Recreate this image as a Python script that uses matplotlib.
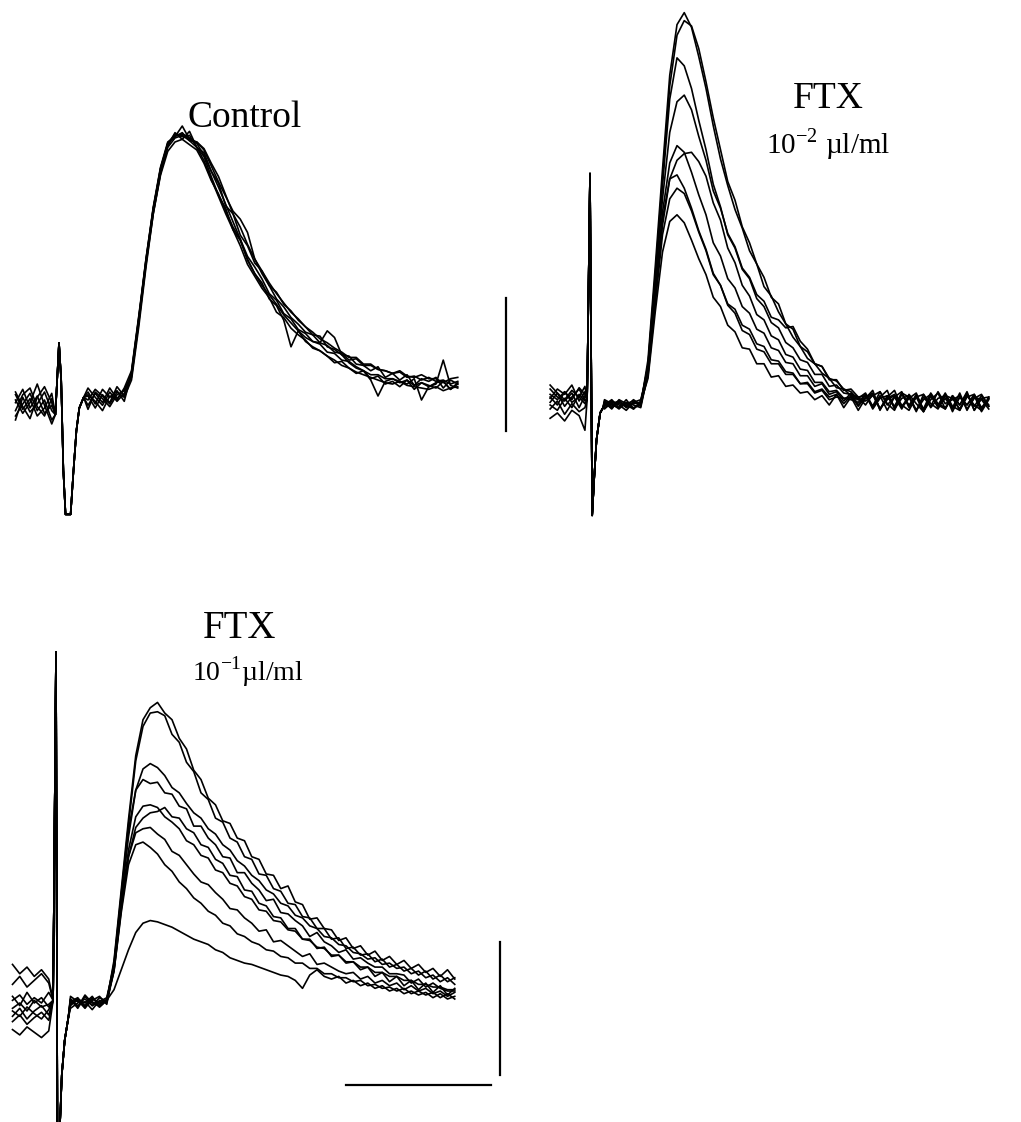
import numpy as np
import matplotlib.pyplot as plt

plt.rcParams['font.family'] = ['Liberation Serif', 'DejaVu Serif']
plt.rcParams['mathtext.fontset'] = 'custom'
plt.rcParams['mathtext.rm'] = 'Liberation Serif'

W, H = 1021, 1122
PX_MS = 14.5      # horizontal: 10 ms bar
PX_MV = 133.0     # vertical: 1 mV bar

# field potentials, amplitudes in units of 10 uV, time in ms from stimulus

# --- Control ---
ctrl_pre_t = [-3.0, -2.5, -2.0, -1.5, -1.0, -0.5]
ctrl_art_t = [-0.25, 0.0, 0.15, 0.3, 0.45, 0.8, 1.0, 1.2, 1.4, 1.7]
ctrl_art_v = [-11, 43, 15, -53, -86, -86, -53, -23, -6, 2]
ctrl_post_t = np.arange(2.0, 27.6, 0.5)

ctrl_pre = [
    [-2, 8, -6, 3, -10, -4],
    [-12, -3, 5, -8, 0, -15],
    [6, -5, -14, 2, 10, -2],
    [-8, 4, 9, -5, -12, 1],
    [0, -10, -2, 12, -4, -18],
    [-15, 2, -9, -3, 6, -8],
    [4, -7, 1, -12, -6, 5],
]
ctrl_post = [
    [6, -3, 8, 2, 7, -1, 20, 62, 104, 141, 170, 191,
     201, 196, 202, 190, 186, 172, 163, 146, 140, 124, 116, 103, 97, 86, 81, 72, 67, 60,
     55, 49, 48, 40, 38, 34, 33, 27, 26, 22, 25, 17, 20, 15, 19, 11, 16, 14, 17, 9, 15, 12],
    [-4, 5, -2, 9, 1, 8, 18, 58, 102, 140, 169, 187,
     194, 196, 192, 188, 178, 165, 155, 142, 130, 121, 105, 95, 88, 76, 71, 60, 40, 52,
     44, 40, 37, 33, 28, 29, 24, 20, 22, 16, 18, 12, 14, 10, 15, 8, 13, 11, 9, 14, 8, 12],
    [3, -6, 4, -2, 10, 3, 21, 61, 106, 145, 175, 194,
     198, 206, 196, 194, 188, 176, 164, 153, 142, 136, 126, 106, 95, 86, 76, 70, 62, 57,
     51, 49, 43, 41, 36, 35, 30, 31, 26, 26, 23, 22, 20, 21, 17, 18, 15, 17, 14, 15, 12, 14],
    [-7, 6, 1, -5, 4, 7, 17, 59, 103, 144, 172, 193,
     200, 198, 199, 190, 183, 168, 154, 144, 128, 120, 106, 95, 86, 79, 72, 64, 58, 52,
     47, 44, 43, 52, 47, 34, 28, 24, 22, 19, 19, 16, 16, 13, 15, 11, 13, 10, 12, 30, 11, 9],
    [9, 2, -4, 6, -1, 5, 19, 60, 105, 143, 174, 192,
     199, 200, 197, 193, 184, 172, 160, 147, 134, 121, 108, 100, 91, 80, 75, 65, 61, 53,
     50, 44, 42, 36, 35, 30, 29, 25, 22, 15, 3, 14, 16, 14, 12, 16, 0, 10, 13, 14, 8, 13],
    [0, 8, 3, -3, 6, 2, 15, 55, 100, 140, 171, 190,
     197, 199, 195, 194, 189, 178, 168, 154, 140, 130, 117, 106, 97, 88, 80, 73, 66, 61,
     55, 51, 46, 43, 39, 36, 32, 32, 27, 27, 23, 22, 20, 22, 18, 17, 19, 16, 16, 13, 16, 17],
    [4, -1, -8, 3, 0, 9, 22, 63, 106, 144, 174, 193,
     198, 201, 195, 190, 180, 166, 153, 140, 128, 116, 102, 93, 84, 77, 66, 62, 54, 49,
     45, 39, 37, 33, 30, 26, 24, 21, 19, 17, 15, 13, 12, 14, 11, 10, 9, 8, 10, 7, 9, 10],
]

# --- FTX 10^-2 ul/ml ---
ftx2_pre_t = [-2.75, -2.25, -1.75, -1.25, -0.75, -0.35]
ftx2_art_t = [-0.2, 0.0, 0.15, 0.3, 0.45, 0.7, 0.9]
ftx2_art_v = [4, 174, -83, -53, -26, -6, -2]
ftx2_post_t = np.arange(1.0, 27.6, 0.5)

ftx2_pre = [
    [8, 4, 10, 2, 6, 1],
    [2, 9, -1, 6, 12, 4],
    [12, 6, 3, 9, -2, 7],
    [-10, -6, -12, -4, -8, -19],
    [5, 12, 8, 15, 3, 10],
    [0, -4, 5, -2, 8, 3],
    [15, 9, 4, 11, 6, 14],
    [-3, 3, -7, 1, -5, -2],
    [6, 0, 10, 4, 13, 8],
]
ftx2_post = [
    [2, -3, 4, 1, -2, 0, 34, 104, 177, 248, 286, 295, 284, 262, 238, 210, 185, 165,
     147, 133, 116, 106, 89, 82, 70, 61, 51, 44, 35, 31, 24, 20, 13, 12, 7, 5,
     9, -1, 7, -4, 6, 10, -2, 8, -5, 4, 9, -3, 7, 0, 10, -4, 5, -1],
    [-1, 3, 0, -4, 2, 1, 30, 98, 170, 240, 278, 289, 285, 268, 243, 216, 192, 168,
     154, 134, 122, 106, 96, 81, 76, 61, 57, 44, 40, 31, 29, 20, 18, 12, 10, 4,
     5, 11, -4, 7, -1, 9, 6, -5, 8, 1, -3, 7, -2, 9, -4, 6, 4, -3],
    [3, 0, -2, 4, -3, 2, 30, 96, 165, 230, 261, 255, 238, 214, 192, 166, 149, 128,
     118, 102, 95, 80, 74, 62, 58, 47, 43, 34, 32, 23, 23, 14, 15, 9, 8, 6,
     0, 8, -3, 6, 11, -2, 5, 9, -4, 7, -1, 8, -5, 6, 0, 8, -3, 5],
    [0, 4, -2, 1, 3, -1, 28, 92, 155, 205, 228, 233, 222, 202, 184, 161, 148, 129,
     119, 103, 96, 83, 78, 66, 64, 58, 59, 48, 42, 31, 29, 19, 19, 11, 12, 6,
     7, -1, 10, 1, -4, 8, 0, 7, -3, 9, 1, -2, 6, -4, 8, -1, 7, 0],
    [-2, 1, 3, -1, 2, 4, 26, 85, 145, 182, 195, 190, 175, 158, 143, 122, 112, 95,
     88, 74, 69, 57, 54, 43, 41, 32, 31, 22, 22, 14, 16, 8, 10, 3, 9, 0,
     8, -2, 6, 11, -3, 5, 7, -4, 6, -1, 10, 1, 4, 7, -3, 5, 8, -1],
    [1, -2, 2, 0, -3, 3, 24, 80, 135, 170, 184, 189, 190, 183, 172, 152, 139, 118,
     107, 90, 82, 68, 64, 52, 49, 38, 36, 27, 26, 17, 17, 10, 11, 5, 6, 4,
     3, 7, 10, 0, 6, -3, 8, 1, -5, 7, 0, 9, -1, -4, 6, 8, -2, 5],
    [4, 1, -3, 2, 0, -2, 24, 82, 140, 170, 173, 163, 148, 131, 117, 99, 90, 75,
     69, 56, 53, 42, 40, 31, 31, 23, 23, 16, 17, 10, 12, 6, 8, 1, 7, -1,
     6, 9, -3, 5, 8, 0, -4, 6, 8, -2, 5, 7, 5, -3, 7, 0, -4, 6],
    [-3, 2, 1, -1, 4, 0, 22, 76, 128, 155, 163, 159, 146, 130, 116, 98, 90, 76,
     72, 60, 57, 46, 44, 34, 33, 25, 24, 16, 16, 9, 11, 4, 6, 5, 4, 2,
     8, -3, 5, 7, -2, 9, -1, 6, -5, 8, 0, -3, 7, 0, 9, -4, 5, 6],
    [2, -1, 3, -2, 1, 2, 20, 70, 115, 138, 143, 137, 124, 110, 98, 81, 74, 60,
     55, 43, 42, 31, 31, 21, 22, 14, 15, 9, 10, 4, 7, 0, 8, -2, 6, -4,
     5, 8, -3, 4, 7, -1, 6, -4, 4, 8, -2, 5, -3, 6, 0, 7, -5, 4],
]

# --- FTX 10^-1 ul/ml ---
ftx1_pre_t = [-3.0, -2.5, -2.0, -1.5, -1.0, -0.5]
ftx1_art_t = [-0.2, 0.0, 0.1, 0.25, 0.4, 0.6, 0.85]
ftx1_art_v = [2, 264, -110, -99, -54, -28, -11]
ftx1_post_t = np.arange(1.0, 27.6, 0.5)

ftx1_pre = [
    [29, 22, 27, 20, 25, 18],
    [14, 20, 12, 17, 22, 15],
    [2, 6, -1, 4, 0, 8],
    [-4, 0, -6, 2, -3, -1],
    [-6, -10, -3, -8, -12, -5],
    [-14, -9, -16, -11, -7, -13],
    [-20, -24, -18, -22, -26, -21],
    [5, -2, 8, 0, 4, -3],
    [-10, -4, -12, -6, -2, -9],
]
ftx1_post = [
    [3, -4, 5, -2, 4, 1, 32, 85, 138, 186, 213, 222,
     226, 218, 213, 199, 191, 175, 168, 154, 149, 137, 135, 124, 122, 110, 108, 97, 96, 86,
     88, 76, 74, 63, 64, 56, 55, 47, 49, 41, 43, 36, 39, 32, 35, 29, 32, 26, 29, 23, 26, 20, 25, 18],
    [-2, 3, 0, 5, -3, 2, 30, 82, 134, 182, 208, 218,
     219, 216, 202, 196, 181, 174, 158, 153, 139, 136, 124, 121, 110, 108, 97, 96, 86, 84,
     75, 74, 65, 64, 56, 56, 48, 49, 41, 42, 36, 37, 31, 33, 27, 29, 24, 26, 21, 24, 18, 21, 16, 19],
    [1, 4, -3, 2, 5, -1, 28, 78, 125, 160, 176, 180,
     177, 171, 162, 158, 150, 143, 139, 131, 127, 119, 115, 107, 103, 96, 92, 85, 82, 75,
     73, 66, 64, 58, 56, 50, 49, 44, 43, 38, 37, 33, 34, 29, 30, 26, 27, 22, 24, 19, 21, 16, 19, 14],
    [-4, 0, 3, -2, 1, 4, 28, 80, 130, 160, 168, 165,
     166, 158, 157, 148, 146, 133, 133, 124, 119, 110, 109, 98, 98, 90, 85, 77, 78, 68,
     67, 62, 58, 50, 53, 46, 43, 38, 40, 33, 34, 30, 27, 27, 22, 22, 21, 15, 18, 12, 15, 11, 9, 9],
    [2, -3, 6, 0, -2, 3, 26, 74, 115, 140, 148, 149,
     147, 140, 136, 131, 122, 119, 111, 109, 100, 98, 90, 88, 80, 78, 70, 69, 62, 61,
     55, 54, 48, 47, 42, 41, 36, 36, 31, 31, 27, 27, 23, 23, 20, 20, 17, 17, 14, 14, 12, 12, 10, 10],
    [5, 1, -2, 4, -1, 2, 24, 70, 110, 132, 139, 143,
     144, 147, 140, 139, 131, 128, 119, 117, 108, 105, 96, 95, 85, 84, 75, 73, 65, 64,
     56, 56, 48, 48, 41, 42, 35, 36, 30, 31, 25, 27, 20, 23, 16, 20, 13, 17, 10, 15, 8, 13, 6, 11],
    [-1, 2, -4, 3, 0, 1, 25, 72, 110, 128, 131, 132,
     127, 123, 114, 111, 104, 97, 91, 89, 83, 78, 71, 70, 64, 60, 54, 55, 46, 47,
     43, 39, 35, 37, 29, 30, 27, 24, 22, 23, 18, 20, 15, 17, 13, 15, 10, 13, 9, 11, 7, 9, 5, 8],
    [3, -2, 1, -5, 2, 0, 24, 68, 104, 119, 121, 117,
     112, 104, 99, 91, 86, 79, 75, 69, 66, 60, 58, 52, 50, 46, 44, 40, 39, 35,
     34, 30, 30, 26, 26, 22, 22, 19, 19, 16, 17, 13, 14, 11, 12, 9, 11, 7, 9, 6, 8, 4, 7, 3],
    [0, 3, -2, 1, -3, 2, 10, 25, 40, 53, 60, 62,
     61, 59, 57, 54, 51, 48, 46, 44, 40, 38, 34, 32, 30, 29, 27, 25, 23, 21,
     20, 17, 11, 21, 25, 20, 18, 20, 15, 17, 13, 15, 11, 13, 9, 11, 7, 9, 6, 8, 4, 7, 3, 5],
]

fig = plt.figure(figsize=(W / 100, H / 100), dpi=100)


def panel_axes(left, top, width, height, x0, y0):
    # axes placed in pixels; (x0, y0) is where stimulus / baseline sit
    ax = fig.add_axes([left / W, 1 - (top + height) / H, width / W, height / H])
    ax.set_xlim((left - x0) / PX_MS, (left + width - x0) / PX_MS)
    ax.set_ylim((y0 - top - height) / PX_MV, (y0 - top) / PX_MV)
    ax.axis('off')
    return ax


def draw_traces(ax, pre_t, pre, art_t, art_v, post_t, post):
    t = np.concatenate([pre_t, art_t, post_t])
    for p, q in zip(pre, post):
        v = np.concatenate([p, art_v, q]) / 100.0
        ax.plot(t, v, color='black', lw=1.2, solid_joinstyle='round')


ax1 = panel_axes(0, 60, 530, 500, 59, 400)
draw_traces(ax1, ctrl_pre_t, ctrl_pre, ctrl_art_t, ctrl_art_v, ctrl_post_t, ctrl_post)
ax1.plot([30.8, 30.8], [-0.23, 0.77], color='black', lw=1.6)

ax2 = panel_axes(530, 0, 491, 540, 590, 405)
draw_traces(ax2, ftx2_pre_t, ftx2_pre, ftx2_art_t, ftx2_art_v, ftx2_post_t, ftx2_post)

ax3 = panel_axes(0, 590, 530, 532, 56, 1003)
draw_traces(ax3, ftx1_pre_t, ftx1_pre, ftx1_art_t, ftx1_art_v, ftx1_post_t, ftx1_post)
# scale bars: 1 mV, 10 ms
ax3.plot([30.6, 30.6], [-0.54, 0.46], color='black', lw=1.6)
ax3.plot([20.0, 30.0], [-0.62, -0.62], color='black', lw=1.6)


def label(x, y, s, size):
    fig.text(x / W, 1 - y / H, s, ha='center', va='baseline', fontsize=size)


label(245, 127, 'Control', 27)
label(828, 108, 'FTX', 27)
label(828, 153, r'10$^{\mathregular{-2}}$ µl/ml', 21)
label(240, 638, 'FTX', 28)
label(248, 681, r'10$^{\mathregular{-1}}$µl/ml', 20)

fig.savefig('out.png', dpi=100)
